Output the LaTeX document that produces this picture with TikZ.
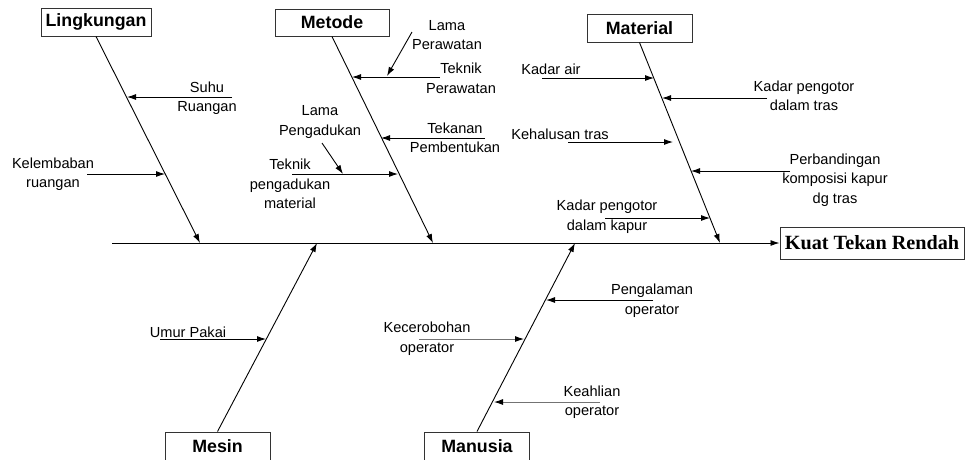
\documentclass[tikz,border=0pt]{standalone}
\usepackage{fontspec}
\setmainfont{Liberation Sans}
\newfontfamily\timesfont{Liberation Serif}
\usetikzlibrary{arrows.meta}

\tikzstyle{category} = [draw=black!80, line width=1pt, rectangle,
  minimum width=105pt, minimum height=28pt, inner sep=0pt,
  font=\fontsize{17.8}{20}\selectfont\bfseries]
\tikzstyle{effect} = [draw=black!80, line width=1pt, rectangle,
  minimum width=184pt, minimum height=32pt, inner sep=0pt,
  font=\fontsize{20.2}{22}\selectfont\timesfont\bfseries]
\tikzstyle{cause} = [align=center, inner sep=0pt,
  font=\fontsize{14.6}{19.5}\selectfont]
\tikzstyle{bone} = [-{Latex[length=9pt,width=6pt]}, line width=0.9pt]
\tikzstyle{twig} = [-{Latex[length=9pt,width=6pt]}, line width=0.9pt]
\tikzstyle{greytwig} = [-{Latex[length=9pt,width=6pt,black]}, line width=0.9pt,
  draw=black!55]

\begin{document}
\begin{tikzpicture}[x=1pt,y=-1pt]
        \clip (0,0) rectangle (965,459);
        \useasboundingbox (0,0) rectangle (965,459);

        % head and main spine
        \node [effect]   (kuat)      at (872,243)   {Kuat Tekan Rendah};
        \coordinate (tail) at (112,243);
        \draw[bone] (tail) -- (kuat.west);

        % categories
        \node [category] (lingkungan) at (96,22)    [minimum width=110pt] {Lingkungan};
        \node [category] (metode)     at (332,22.5) [minimum width=114pt, minimum height=27pt] {Metode};
        \node [category] (material)   at (639.5,28) {Material};
        \node [category] (mesin)      at (217.5,446.5) [minimum height=29pt] {Mesin};
        \node [category] (manusia)    at (477,446.5)   [minimum height=29pt] {Manusia};

        \coordinate (lingkunganTip) at (200,243);
        \coordinate (metodeTip)     at (433,243);
        \coordinate (materialTip)   at (720,243);
        \coordinate (mesinTip)      at (317,243);
        \coordinate (manusiaTip)    at (575,243);

        \draw[bone] (lingkungan.south) -- (lingkunganTip);
        \draw[bone] (metode.south)     -- (metodeTip);
        \draw[bone] (material.south)   -- (materialTip);
        \draw[bone] (mesin.north)      -- (mesinTip);
        \draw[bone] (manusia.north)    -- (manusiaTip);

        % Lingkungan
        \node [cause] (suhu)   at (207,98)  {Suhu\\Ruangan};
        \node [cause] (lembab) at (53,174)  {Kelembaban\\ruangan};
        \coordinate (suhuA)   at (232,97);  \coordinate (suhuB)   at (127,97);
        \coordinate (lembabA) at (87,174);  \coordinate (lembabB) at (165,174);
        \draw[twig] (suhuA) -- (suhuB);
        \draw[twig] (lembabA) -- (lembabB);

        % Metode
        \node [cause] (lamarawat)  at (447,35)   {Lama\\Perawatan};
        \node [cause] (teknikrawat) at (461,78.5) {Teknik\\Perawatan};
        \node [cause] (tekanan)    at (455,138)  {Tekanan\\Pembentukan};
        \node [cause] (lamaaduk)   at (320,122)  {Lama\\Pengadukan};
        \node [cause] (teknikaduk) at (290,184)  {Teknik\\pengadukan\\material};
        \coordinate (teknikrawatA) at (440,77);  \coordinate (teknikrawatB) at (352,77);
        \coordinate (lamarawatA)   at (412,32);  \coordinate (lamarawatB)   at (387,76);
        \coordinate (tekananA)     at (485,138); \coordinate (tekananB)     at (381,138);
        \coordinate (teknikadukA)  at (292,174); \coordinate (teknikadukB)  at (398,174);
        \coordinate (lamaadukA)    at (322,143); \coordinate (lamaadukB)    at (343,174);
        \draw[twig] (teknikrawatA) -- (teknikrawatB);
        \draw[twig] (lamarawatA) -- (lamarawatB);
        \draw[twig] (tekananA) -- (tekananB);
        \draw[twig] (teknikadukA) -- (teknikadukB);
        \draw[twig] (lamaadukA) -- (lamaadukB);

        % Material
        \node [cause] (kadarair)   at (551,69)  {Kadar air};
        \node [cause] (kotortras)  at (804,96)  {Kadar pengotor\\dalam tras};
        \node [cause] (halus)      at (560,134) {Kehalusan tras};
        \node [cause] (banding)    at (835,180) {Perbandingan\\komposisi kapur\\dg tras};
        \node [cause] (kotorkapur) at (607,216.5) {Kadar pengotor\\dalam kapur};
        \coordinate (kadarairA)   at (542,78);  \coordinate (kadarairB)   at (654,78);
        \coordinate (kotortrasA)  at (767,98);  \coordinate (kotortrasB)  at (662,98);
        \coordinate (halusA)      at (568,142); \coordinate (halusB)      at (673,142);
        \coordinate (bandingA)    at (790,171); \coordinate (bandingB)    at (691,171);
        \coordinate (kotorkapurA) at (605,218); \coordinate (kotorkapurB) at (710,218);
        \draw[twig] (kadarairA) -- (kadarairB);
        \draw[twig] (kotortrasA) -- (kotortrasB);
        \draw[twig] (halusA) -- (halusB);
        \draw[twig] (bandingA) -- (bandingB);
        \draw[twig] (kotorkapurA) -- (kotorkapurB);

        % Mesin
        \node [cause] (umur) at (188,332) {Umur Pakai};
        \coordinate (umurA) at (160,339); \coordinate (umurB) at (266,339);
        \draw[twig] (umurA) -- (umurB);

        % Manusia
        \node [cause] (ceroboh)    at (427,338.5) {Kecerobohan\\operator};
        \node [cause] (pengalaman) at (652,300.5) {Pengalaman\\operator};
        \node [cause] (ahli)       at (592,402)   {Keahlian\\operator};
        \coordinate (cerobohA)    at (419,339); \coordinate (cerobohB)    at (524,339);
        \coordinate (pengalamanA) at (653,300); \coordinate (pengalamanB) at (546,300);
        \coordinate (ahliA)       at (600,402); \coordinate (ahliB)       at (494,402);
        \draw[greytwig] (cerobohA) -- (cerobohB);
        \draw[twig] (pengalamanA) -- (pengalamanB);
        \draw[greytwig] (ahliA) -- (ahliB);
      \end{tikzpicture}
\end{document}
